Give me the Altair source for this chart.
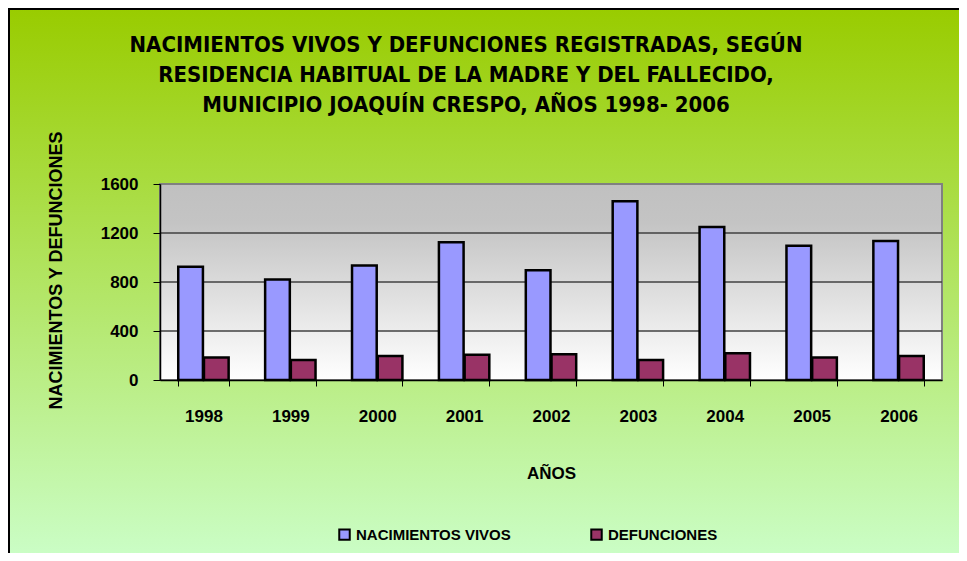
import altair as alt
import pandas as pd

years = ["1998", "1999", "2000", "2001", "2002", "2003", "2004", "2005", "2006"]
nacimientos = [925, 820, 935, 1125, 895, 1460, 1250, 1095, 1135]
defunciones = [183, 163, 196, 207, 210, 163, 218, 183, 196]
series = ["NACIMIENTOS VIVOS", "DEFUNCIONES"]
colors = ["#9999ff", "#993366"]
y_ticks = [0, 400, 800, 1200, 1600]
grid_values = [400, 800, 1200]
title_lines = [
    "NACIMIENTOS VIVOS Y DEFUNCIONES REGISTRADAS, SEGÚN",
    "RESIDENCIA HABITUAL DE LA MADRE Y DEL FALLECIDO,",
    "MUNICIPIO JOAQUÍN CRESPO, AÑOS  1998- 2006",
]

W, H = 782, 196
PL, PT, PR, PB = 152, 176, 17, 173

rows = []
for i, y in enumerate(years):
    rows.append({"year": y, "serie": series[0], "valor": nacimientos[i]})
    rows.append({"year": y, "serie": series[1], "valor": defunciones[i]})
df = pd.DataFrame(rows)
df_grid = pd.DataFrame({"valor": grid_values})
df_one = pd.DataFrame({"a": [0]})

FONT = "Liberation Sans"
NARROW = "Liberation Sans Narrow, DejaVu Sans Condensed, Liberation Sans"

outer_grad = alt.LinearGradient(
    gradient="linear",
    stops=[alt.GradientStop(color="#99cc00", offset=0),
           alt.GradientStop(color="#ccffcc", offset=1)],
    x1=0, x2=0, y1=0, y2=1,
)
plot_grad = alt.LinearGradient(
    gradient="linear",
    stops=[alt.GradientStop(color="#c0c0c0", offset=0),
           alt.GradientStop(color="#c4c4c4", offset=0.2),
           alt.GradientStop(color="#ffffff", offset=1)],
    x1=0, x2=0, y1=0, y2=1,
)

y_axis = alt.Axis(title="NACIMIENTOS Y DEFUNCIONES", values=y_ticks, grid=False, format="d",
                  tickSize=7, tickColor="black", domainColor="black", domainWidth=1.5,
                  labelFont=FONT, labelFontSize=17, labelFontWeight="bold",
                  labelColor="black", labelPadding=15,
                  titleFont=FONT, titleFontSize=18, titleFontWeight="bold",
                  titleColor="black", titlePadding=35, titleY=86, zindex=1)
y_scale = alt.Scale(domain=[0, 1600], nice=False)

outer = alt.Chart(df_one).mark_rect(color=outer_grad, stroke="black", strokeWidth=2).encode(
    x=alt.value(-PL + 1), x2=alt.value(W + PR + 20),
    y=alt.value(-PT + 1), y2=alt.value(H + PB + 20),
)
plotbg = alt.Chart(df_one).mark_rect(color=plot_grad, stroke="#808080", strokeWidth=2).encode(
    x=alt.value(0), x2=alt.value(W), y=alt.value(0), y2=alt.value(H),
)
grid = alt.Chart(df_grid).mark_rule(color="#404040", strokeWidth=1.5).encode(
    y=alt.Y("valor:Q", axis=y_axis, scale=y_scale),
    x=alt.value(0), x2=alt.value(W),
)

bars = alt.Chart(df).mark_bar(stroke="black", strokeWidth=2.5).encode(
    x=alt.X("year:N", sort=years,
            scale=alt.Scale(paddingInner=0.42, paddingOuter=0.21),
            axis=alt.Axis(title="AÑOS", labelAngle=0, tickBand="extent", tickSize=6,
                          tickColor="black", domainColor="black", domainWidth=1.5,
                          labelFont=FONT, labelFontSize=17, labelFontWeight="bold",
                          labelColor="black", labelPadding=22,
                          titleFont=FONT, titleFontSize=17, titleFontWeight="bold",
                          titleColor="black", titlePadding=41, zindex=1)),
    xOffset=alt.XOffset("serie:N", sort=series, scale=alt.Scale(paddingInner=0.04)),
    y=alt.Y("valor:Q", scale=y_scale, axis=y_axis),
    color=alt.Color("serie:N", sort=series,
                    scale=alt.Scale(domain=series, range=colors),
                    legend=alt.Legend(title=None, orient="none", legendX=177, legendY=343,
                                      direction="horizontal", symbolType="square",
                                      symbolSize=110, symbolStrokeColor="black",
                                      symbolStrokeWidth=2, symbolOpacity=1,
                                      labelFont=FONT, labelFontSize=15, labelFontWeight="bold",
                                      labelColor="black", labelOffset=4, columnPadding=76,
                                      labelLimit=400, padding=0, zindex=1)),
)

chart = alt.layer(outer, plotbg, grid, bars).properties(
    width=W, height=H,
    padding={"left": PL, "top": PT, "right": PR, "bottom": PB},
    autosize=alt.AutoSizeParams(type="none"),
    title=alt.TitleParams(text=title_lines, font=NARROW, fontSize=22, fontWeight="bold",
                          color="black", lineHeight=30, anchor="middle", frame="group",
                          dx=-85, offset=-109, zindex=1),
).configure_view(stroke=None)

chart.save("out.html", embed_options={"renderer": "svg", "actions": False})
